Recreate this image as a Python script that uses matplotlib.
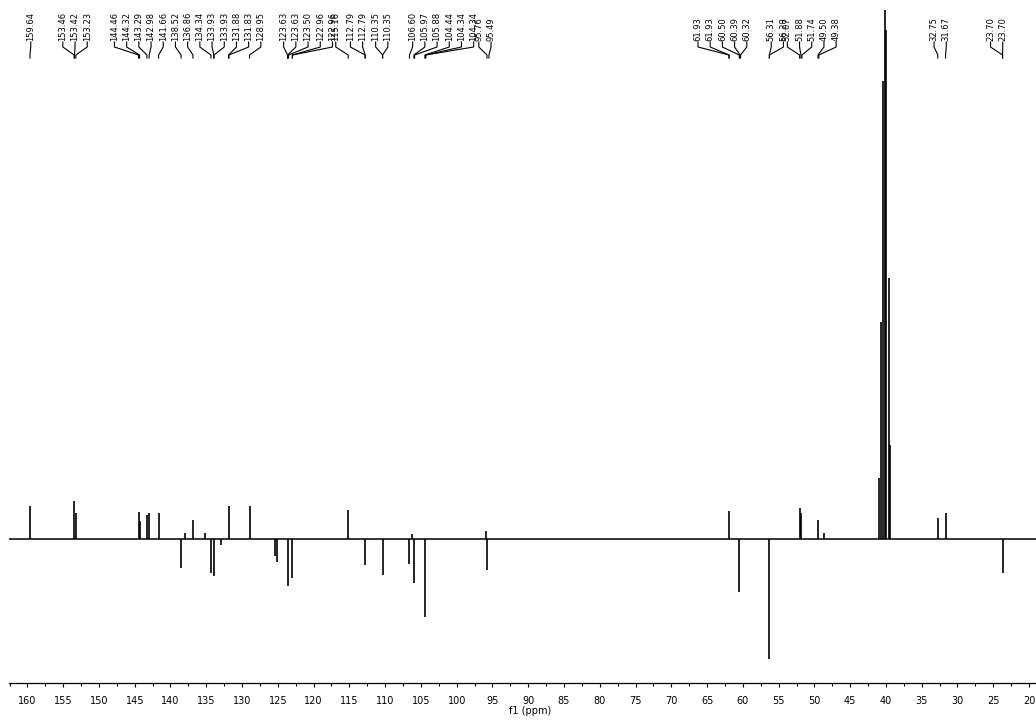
import numpy as np
import matplotlib.pyplot as plt
from matplotlib.ticker import MultipleLocator

# ---------------- data ----------------
# peak positions (ppm) and intensities (up = positive, down = negative)
peak_ppm = [159.64, 153.46, 153.23, 144.46, 144.32, 143.29, 142.98, 141.66,
            138.52, 138.00, 136.86, 135.15, 134.34, 133.93, 132.95, 131.88,
            128.95, 125.45, 125.15, 123.63, 122.96, 115.16, 112.79, 110.35,
            106.60, 106.24, 105.97, 104.44, 95.95, 95.76,
            61.93, 60.50, 56.31, 52.07, 51.88, 49.50, 48.62,
            32.75, 31.67, 23.70]
peak_int = [33, 38, 26, 27, 18, 24, 26, 26,
            -29, 6, 19, 6, -34, -37, -6, 33,
            33, -17, -23, -47, -39, 29, -26, -36,
            -25, 5, -44, -78, 8, -31,
            28, -53, -120, 31, 26, 19, 6,
            21, 26, -34]

# solvent septet (DMSO-d6)
dmso_ppm = [40.98, 40.71, 40.46, 40.20, 39.93, 39.64, 39.38]
dmso_int = [61, 217, 458, 529, 509, 261, 94]

# peak labels, grouped as they are printed on top
label_groups = [
    [159.64],
    [153.46, 153.42, 153.23],
    [144.46, 144.32, 143.29, 142.98, 141.66, 138.52, 136.86, 134.34,
     133.93, 133.93, 131.88, 131.83, 128.95],
    [123.63, 123.63, 123.50, 122.96, 122.96],
    [115.16],
    [112.79, 112.79],
    [110.35, 110.35],
    [106.60, 105.97, 105.88, 104.44, 104.34, 104.34],
    [95.76, 95.49],
    [61.93, 61.93, 60.50, 60.39, 60.32],
    [56.31, 56.28],
    [52.07, 51.88, 51.74, 49.50, 49.38],
    [32.75, 31.67],
    [23.70, 23.70],
]
# where each label group is centred (ppm) - layout only
group_center = [159.53, 153.34, 137.60, 120.77, 116.90, 114.00, 110.47,
                101.89, 96.05, 62.86, 55.18, 50.37, 32.42, 24.53]

# ---------------- plot ----------------
fig = plt.figure(figsize=(10.36, 7.22), dpi=100)
ax = fig.add_axes([9 / 1036, 39 / 722, 1042 / 1036, 683 / 722])

x0, x1 = 162.57, 16.93
ax.set_xlim(x0, x1)
ax.set_ylim(-144, 539)

ax.plot([x0, x1], [0, 0], color='black', lw=1.1)
ax.vlines(peak_ppm, 0, peak_int, color='black', lw=1.2)
ax.vlines(dmso_ppm, 0, dmso_int, color='black', lw=1.2)

# label texts and the connectors down to the peaks
step = 12.2 / 7.155   # label spacing in ppm
for grp, c in zip(label_groups, group_center):
    n = len(grp)
    for i, v in enumerate(grp):
        xt = c - (i - (n - 1) / 2) * step
        ax.text(xt, 498, '%.2f' % v, rotation=90, ha='center', va='bottom',
                fontsize=6, color='black')
        ax.plot([xt, xt, v, v], [497, 492, 484, 481], color='black', lw=0.8)

for s in ['top', 'left', 'right']:
    ax.spines[s].set_visible(False)
ax.spines['bottom'].set_linewidth(0.9)
ax.set_yticks([])
ax.xaxis.set_major_locator(MultipleLocator(5))
ax.xaxis.set_minor_locator(MultipleLocator(2.5))
ax.tick_params(axis='x', which='major', direction='out', length=3, width=0.8,
               labelsize=7, pad=6)
ax.tick_params(axis='x', which='minor', direction='out', length=2, width=0.8)
ax.set_xlabel('f1 (ppm)', fontsize=7, labelpad=0)

plt.savefig('out.png', dpi=100)
